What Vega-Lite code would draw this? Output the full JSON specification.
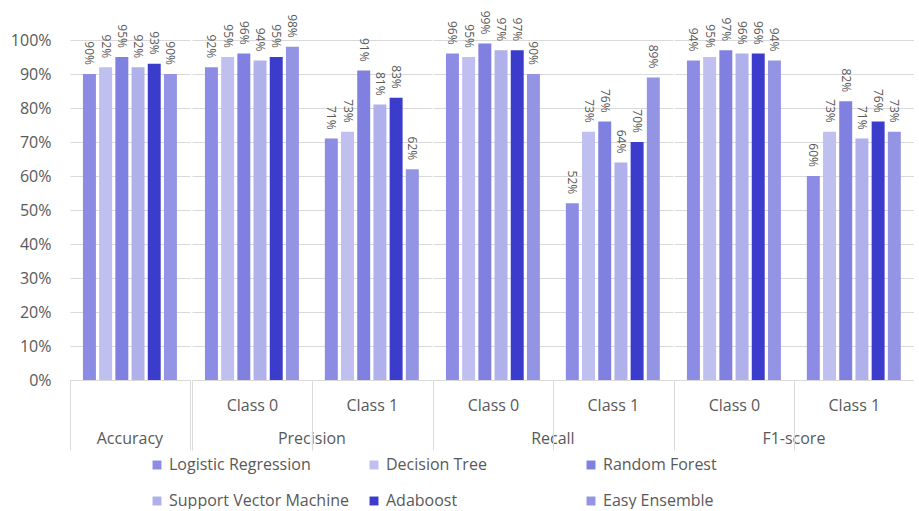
{
  "$schema": "https://vega.github.io/schema/vega-lite/v6.json",
  "background": "white",
  "padding": {"top": 10, "left": 10, "right": 0, "bottom": 0},
  "config": {
    "font": "Open Sans",
    "view": {"stroke": null},
    "axis": {"labelFont": "Open Sans", "labelColor": "#595959", "labelFontSize": 16},
    "legend": {"labelFont": "Open Sans"}
  },
  "data": {
    "values": [
      {"metric": "Accuracy", "cls": "Overall", "model": "Logistic Regression", "value": 0.90},
      {"metric": "Accuracy", "cls": "Overall", "model": "Decision Tree", "value": 0.92},
      {"metric": "Accuracy", "cls": "Overall", "model": "Random Forest", "value": 0.95},
      {"metric": "Accuracy", "cls": "Overall", "model": "Support Vector Machine", "value": 0.92},
      {"metric": "Accuracy", "cls": "Overall", "model": "Adaboost", "value": 0.93},
      {"metric": "Accuracy", "cls": "Overall", "model": "Easy Ensemble", "value": 0.90},

      {"metric": "Precision", "cls": "Class 0", "model": "Logistic Regression", "value": 0.92},
      {"metric": "Precision", "cls": "Class 0", "model": "Decision Tree", "value": 0.95},
      {"metric": "Precision", "cls": "Class 0", "model": "Random Forest", "value": 0.96},
      {"metric": "Precision", "cls": "Class 0", "model": "Support Vector Machine", "value": 0.94},
      {"metric": "Precision", "cls": "Class 0", "model": "Adaboost", "value": 0.95},
      {"metric": "Precision", "cls": "Class 0", "model": "Easy Ensemble", "value": 0.98},
      {"metric": "Precision", "cls": "Class 1", "model": "Logistic Regression", "value": 0.71},
      {"metric": "Precision", "cls": "Class 1", "model": "Decision Tree", "value": 0.73},
      {"metric": "Precision", "cls": "Class 1", "model": "Random Forest", "value": 0.91},
      {"metric": "Precision", "cls": "Class 1", "model": "Support Vector Machine", "value": 0.81},
      {"metric": "Precision", "cls": "Class 1", "model": "Adaboost", "value": 0.83},
      {"metric": "Precision", "cls": "Class 1", "model": "Easy Ensemble", "value": 0.62},

      {"metric": "Recall", "cls": "Class 0", "model": "Logistic Regression", "value": 0.96},
      {"metric": "Recall", "cls": "Class 0", "model": "Decision Tree", "value": 0.95},
      {"metric": "Recall", "cls": "Class 0", "model": "Random Forest", "value": 0.99},
      {"metric": "Recall", "cls": "Class 0", "model": "Support Vector Machine", "value": 0.97},
      {"metric": "Recall", "cls": "Class 0", "model": "Adaboost", "value": 0.97},
      {"metric": "Recall", "cls": "Class 0", "model": "Easy Ensemble", "value": 0.90},
      {"metric": "Recall", "cls": "Class 1", "model": "Logistic Regression", "value": 0.52},
      {"metric": "Recall", "cls": "Class 1", "model": "Decision Tree", "value": 0.73},
      {"metric": "Recall", "cls": "Class 1", "model": "Random Forest", "value": 0.76},
      {"metric": "Recall", "cls": "Class 1", "model": "Support Vector Machine", "value": 0.64},
      {"metric": "Recall", "cls": "Class 1", "model": "Adaboost", "value": 0.70},
      {"metric": "Recall", "cls": "Class 1", "model": "Easy Ensemble", "value": 0.89},

      {"metric": "F1-score", "cls": "Class 0", "model": "Logistic Regression", "value": 0.94},
      {"metric": "F1-score", "cls": "Class 0", "model": "Decision Tree", "value": 0.95},
      {"metric": "F1-score", "cls": "Class 0", "model": "Random Forest", "value": 0.97},
      {"metric": "F1-score", "cls": "Class 0", "model": "Support Vector Machine", "value": 0.96},
      {"metric": "F1-score", "cls": "Class 0", "model": "Adaboost", "value": 0.96},
      {"metric": "F1-score", "cls": "Class 0", "model": "Easy Ensemble", "value": 0.94},
      {"metric": "F1-score", "cls": "Class 1", "model": "Logistic Regression", "value": 0.60},
      {"metric": "F1-score", "cls": "Class 1", "model": "Decision Tree", "value": 0.73},
      {"metric": "F1-score", "cls": "Class 1", "model": "Random Forest", "value": 0.82},
      {"metric": "F1-score", "cls": "Class 1", "model": "Support Vector Machine", "value": 0.71},
      {"metric": "F1-score", "cls": "Class 1", "model": "Adaboost", "value": 0.76},
      {"metric": "F1-score", "cls": "Class 1", "model": "Easy Ensemble", "value": 0.73}
    ]
  },
  "facet": {
    "column": {
      "field": "metric",
      "type": "nominal",
      "sort": ["Accuracy", "Precision", "Recall", "F1-score"],
      "header": {
        "title": null,
        "labelOrient": "bottom",
        "labelFont": "Open Sans",
        "labelFontSize": 16,
        "labelColor": "#595959",
        "labelPadding": -20
      }
    }
  },
  "spacing": 0,
  "resolve": {"scale": {"x": "independent"}},
  "spec": {
    "width": {"step": 16.2},
    "height": 340,
    "encoding": {
      "x": {
        "field": "cls",
        "type": "nominal",
        "sort": null,
        "scale": {"paddingInner": 0, "paddingOuter": 0},
        "axis": {
          "title": null,
          "labelAngle": 0,
          "labelPadding": -53,
          "labelBaseline": "top",
          "labelExpr": "datum.label === 'Overall' ? '' : datum.label",
          "domainColor": "#d9d9d9",
          "tickBand": "extent",
          "tickSize": 70,
          "tickColor": "#d9d9d9",
          "tickOpacity": {"condition": {"test": "datum.value === 'Class 1'", "value": 0}, "value": 1}
        }
      },
      "xOffset": {
        "field": "model",
        "type": "nominal",
        "sort": ["Logistic Regression", "Decision Tree", "Random Forest", "Support Vector Machine", "Adaboost", "Easy Ensemble"],
        "scale": {"paddingInner": 0.2, "paddingOuter": 0.8}
      },
      "y": {
        "field": "value",
        "type": "quantitative",
        "scale": {"domain": [0, 1]},
        "axis": {
          "title": null,
          "values": [0, 0.1, 0.2, 0.3, 0.4, 0.5, 0.6, 0.7, 0.8, 0.9, 1],
          "format": ".0%",
          "domain": false,
          "ticks": false,
          "labelPadding": 18,
          "gridColor": "#d9d9d9"
        }
      }
    },
    "layer": [
      {
        "mark": {"type": "bar"},
        "encoding": {
          "color": {
            "field": "model",
            "type": "nominal",
            "sort": ["Logistic Regression", "Decision Tree", "Random Forest", "Support Vector Machine", "Adaboost", "Easy Ensemble"],
            "scale": {
              "domain": ["Logistic Regression", "Decision Tree", "Random Forest", "Support Vector Machine", "Adaboost", "Easy Ensemble"],
              "range": ["#8c8ce4", "#bfbff0", "#8080e0", "#b0b0ea", "#3c3ccc", "#9494e5"]
            },
            "legend": {
              "title": null,
              "orient": "none",
              "legendX": 79,
              "legendY": 417,
              "direction": "horizontal",
              "columns": 3,
              "gridAlign": "all",
              "columnPadding": 17,
              "rowPadding": 20,
              "symbolType": "square",
              "symbolSize": 80,
              "symbolStrokeWidth": 0,
              "labelFontSize": 16,
              "labelColor": "#595959",
              "labelLimit": 300
            }
          }
        }
      },
      {
        "mark": {
          "type": "text",
          "angle": 90,
          "align": "right",
          "baseline": "middle",
          "dx": -9,
          "fontSize": 12,
          "color": "#595959"
        },
        "encoding": {
          "text": {"field": "value", "type": "quantitative", "format": ".0%"}
        }
      }
    ]
  }
}
